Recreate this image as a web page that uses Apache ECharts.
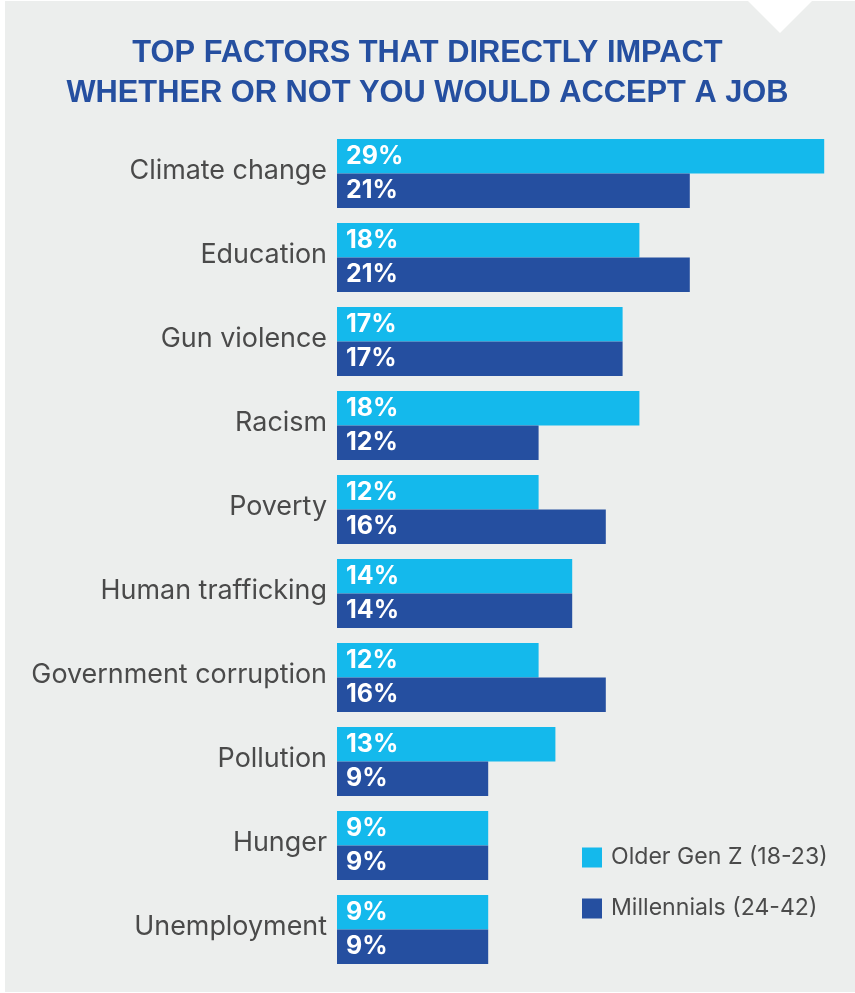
<!DOCTYPE html>
<html>
<head>
<meta charset="utf-8">
<script src="https://cdn.jsdelivr.net/npm/echarts@6/dist/echarts.min.js"></script>
<style>
  html, body { margin: 0; padding: 0; background: #ffffff; }
  #chart { width: 855px; height: 993px; }
</style>
</head>
<body>
<div id="chart"></div>
<script>
// Factors, top to bottom
const categories = [
  'Climate change', 'Education', 'Gun violence', 'Racism', 'Poverty',
  'Human trafficking', 'Government corruption', 'Pollution', 'Hunger', 'Unemployment'
];
// Share of respondents (%)
const olderGenZ = [29, 18, 17, 18, 12, 14, 12, 13, 9, 9];
const millennials = [21, 21, 17, 12, 16, 14, 16, 9, 9, 9];
const seriesNames = ['Older Gen Z (18-23)', 'Millennials (24-42)'];
const titleLines = ['TOP FACTORS THAT DIRECTLY IMPACT', 'WHETHER OR NOT YOU WOULD ACCEPT A JOB'];

const LIGHT = '#14b9ec';
const DARK = '#254fa0';
const TEXT = '#4a4a4a';

const chart = echarts.init(document.getElementById('chart'), null, { renderer: 'canvas' });

const valueLabel = {
  show: true,
  position: 'insideLeft',
  distance: 9,
  color: '#ffffff',
  fontFamily: 'Inter, sans-serif',
  fontWeight: 'bold',
  fontSize: 25,
  formatter: p => p.value + '%'
};

chart.setOption({
  backgroundColor: '#ffffff',
  animation: false,
  graphic: [
    { type: 'rect', z: -10, shape: { x: 5, y: 1, width: 850, height: 991 }, style: { fill: '#eceeed' } },
    { type: 'polygon', z: -9, shape: { points: [[747, 0], [813, 0], [780, 33]] }, style: { fill: '#ffffff' } }
  ],
  title: {
    text: titleLines.join('\n'),
    left: 'center',
    top: 29,
    textStyle: {
      color: DARK,
      fontFamily: '"Liberation Sans", Arial, sans-serif',
      fontWeight: 'bold',
      fontSize: 30.8,
      lineHeight: 40
    }
  },
  legend: {
    orient: 'vertical',
    left: 577,
    top: 841,
    itemWidth: 20,
    itemHeight: 20,
    itemGap: 28,
    icon: 'rect',
    data: seriesNames,
    textStyle: {
      color: TEXT,
      fontFamily: 'Inter, sans-serif',
      fontSize: 23.1,
      padding: [0, 0, 0, 4]
    }
  },
  grid: { left: 337, right: 14, top: 131.5, bottom: 21.5, containLabel: false },
  xAxis: {
    type: 'value', min: 0, max: 30, show: false
  },
  yAxis: {
    type: 'category',
    data: categories,
    inverse: true,
    axisLine: { show: false },
    axisTick: { show: false },
    splitLine: { show: false },
    axisLabel: {
      margin: 10,
      color: TEXT,
      fontFamily: 'Inter, sans-serif',
      fontSize: 26.9,
      // label text sits a few pixels above the band centre
      verticalAlign: 'bottom',
      lineHeight: 6
    }
  },
  series: [
    {
      name: seriesNames[0], type: 'bar', data: olderGenZ,
      barWidth: 34.5, barGap: '0%',
      itemStyle: { color: LIGHT }, label: valueLabel
    },
    {
      name: seriesNames[1], type: 'bar', data: millennials,
      barWidth: 34.5, barGap: '0%',
      itemStyle: { color: DARK }, label: valueLabel
    }
  ]
});
</script>
</body>
</html>
